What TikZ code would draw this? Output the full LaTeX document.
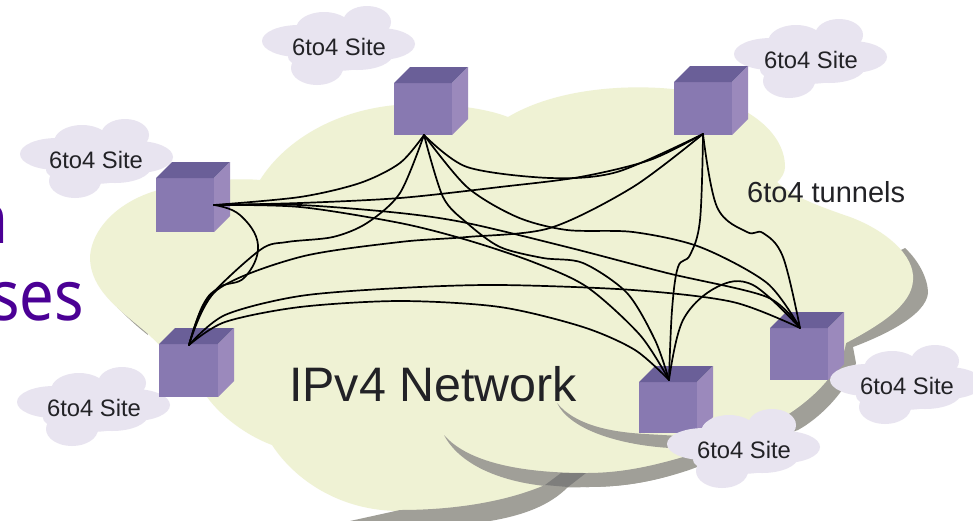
\documentclass[tikz,border=0pt]{standalone}
\usepackage{fontspec}
\setmainfont{Liberation Sans}
\newfontfamily\headfont{Noto Sans}
\definecolor{cloudlight}{HTML}{EFF2D4}
\definecolor{shadowcol}{HTML}{A09F98}
\definecolor{shadowdark}{HTML}{7E7E7C}
\definecolor{sitefill}{HTML}{E8E4F0}
\definecolor{cubefront}{HTML}{8879B1}
\definecolor{cubetop}{HTML}{6A5F98}
\definecolor{cubeside}{HTML}{9B89BC}
\definecolor{headcol}{HTML}{4B0095}
\definecolor{inkcol}{HTML}{222226}
\tikzset{
  tunnel/.style={black,line width=1.7pt,line cap=round},
  sitetext/.style={text=inkcol,inner sep=0pt,font=\fontsize{23.8}{24}\selectfont},
  headtext/.style={anchor=base east,inner sep=0pt,text=headcol,xscale=.88,font=\headfont\fontsize{70}{70}\selectfont},
}
\newcommand\siteshape[2]{\begin{scope}[shift={(#1,#2)}]
 \fill[sitefill] (-40,-6) ellipse [x radius=37,y radius=16];
 \fill[sitefill] (-15,-18) ellipse [x radius=28,y radius=17];
 \fill[sitefill] (28,-25) ellipse [x radius=24,y radius=16];
 \fill[sitefill] (40,-3) ellipse [x radius=36,y radius=16];
 \fill[sitefill] (-5,10) ellipse [x radius=46,y radius=14];
 \fill[sitefill] (-22,21) ellipse [x radius=26,y radius=17];
 \fill[sitefill] (18,7) ellipse [x radius=36,y radius=16];
 \fill[sitefill] (-30,-20) rectangle (30,10);
 \end{scope}}
\newcommand\cubebox[5]{%
 \fill[cubefront] (#1,#2) rectangle ++(#3,#4);
 \fill[cubetop] (#1,#2) -- ++(#5,-#5) -- ++(#3,0) -- ++(-#5,#5) -- cycle;
 \fill[cubeside] (#1+#3,#2) -- ++(#5,-#5) -- ++(0,#4) -- ++(-#5,#5) -- cycle;}
\begin{document}
\begin{tikzpicture}[x=1pt,y=-1pt]
\useasboundingbox (0,0) rectangle (973,520);
\fill[white] (0,0) rectangle (973,520);
% purple slide text, cut by the picture's edge
\node[headtext] (headone) at (9,243) {n};
\node[headtext] (headtwo) at (84,320) {ses};
% shadows under the big cloud
\fill[shadowcol] (905,248) .. controls (920,262) and (928,280) .. (928,293)
  .. controls (926,315) and (885,335) .. (853,347) -- (856,363)
  .. controls (850,385) and (825,415) .. (798,430) -- (689,470)
  .. controls (650,483) and (620,487) .. (586,487) -- (520,460) -- (800,300) -- cycle;
\fill[shadowcol] (117,307) .. controls (130,312) and (140,320) .. (146,325) -- (148,335)
  .. controls (135,325) and (125,315) .. (117,307) -- cycle;
% big cloud
\fill[cloudlight] (90,257) .. controls (92,225) and (125,195) .. (172,187)
  .. controls (200,180) and (240,178) .. (260,180)
  .. controls (285,140) and (340,105) .. (415,104)
  .. controls (450,104) and (485,108) .. (508,117)
  .. controls (550,92) and (610,85) .. (660,88)
  .. controls (730,92) and (785,125) .. (785,167)
  .. controls (785,172) and (782,178) .. (777,182)
  .. controls (790,195) and (815,205) .. (850,217)
  .. controls (885,230) and (915,255) .. (913,280)
  .. controls (912,305) and (880,325) .. (846,343)
  .. controls (840,380) and (790,425) .. (720,445)
  .. controls (680,460) and (630,475) .. (586,473)
  .. controls (555,495) and (480,511) .. (400,511)
  .. controls (340,511) and (295,480) .. (272,445)
  .. controls (245,435) and (220,415) .. (207,397)
  .. controls (190,375) and (165,350) .. (147,333)
  .. controls (120,310) and (90,290) .. (90,257) -- cycle;
% crescents on the cloud
\fill[shadowcol] (545,485) .. controls (510,500) and (460,510) .. (400,510)
  -- (350,521) -- (490,521) .. controls (525,515) and (550,505) .. (568,487) -- cycle;
\fill[shadowcol] (444,435) .. controls (470,465) and (530,473) .. (586,473)
  .. controls (620,473) and (650,467) .. (690,455) -- (690,469)
  .. controls (650,483) and (620,487) .. (586,487)
  .. controls (530,490) and (465,475) .. (444,435) -- cycle;
\fill[shadowdark] (561,473) -- (586,473) -- (568,487) -- (545,485) -- cycle;
\fill[shadowcol] (557,403) .. controls (575,425) and (610,432) .. (645,434) -- (680,436) -- (680,450) -- (670,448)
  .. controls (620,445) and (570,430) .. (557,403) -- cycle;
% sites behind the cubes
\siteshape{339}{47}
\siteshape{811}{60}
\siteshape{97}{160}
\siteshape{94}{408}
% cubes
\cubebox{156}{178}{58}{54}{16}
\cubebox{159}{344}{59}{53}{16}
\cubebox{394}{83}{58}{52}{16}
\cubebox{674}{82}{58}{53}{16}
\cubebox{639}{382}{58}{51}{16}
\cubebox{770}{328}{58}{52}{16}
% sites in front of the cubes
\siteshape{907}{386}
\siteshape{744}{450}
% tunnel ends
\coordinate (A) at (214,205);
\coordinate (B) at (189,345);
\coordinate (C) at (424,135);
\coordinate (D) at (703,134);
\coordinate (E) at (669,380);
\coordinate (F) at (800,328);
% tunnels
\draw[tunnel] plot[smooth,tension=.7] coordinates {(A) (240,215) (258,245) (245,277) (220,287) (203,305) (B)};
\draw[tunnel] plot[smooth] coordinates {(A) (300,197) (360,183) (400,163) (C)};
\draw[tunnel] plot[smooth] coordinates {(A) (300,203) (400,198) (500,187) (580,177) (650,160) (D)};
\draw[tunnel] plot[smooth] coordinates {(A) (300,207) (400,223) (467,240) (533,262) (587,287) (640,335) (E)};
\draw[tunnel] plot[smooth] coordinates {(A) (300,205) (400,213) (467,223) (567,247) (667,273) (767,297) (F)};
\draw[tunnel] plot[smooth] coordinates {(B) (207,300) (260,250) (287,242) (333,237) (367,223) (400,193) (C)};
\draw[tunnel] plot[smooth] coordinates {(B) (217,290) (300,257) (400,242) (467,237) (550,228) (633,187) (D)};
\draw[tunnel] plot[smooth] coordinates {(B) (225,322) (300,307) (400,301) (500,307) (583,327) (635,350) (E)};
\draw[tunnel] plot[smooth] coordinates {(B) (225,315) (300,296) (400,288) (500,285) (633,290) (733,302) (F)};
\draw[tunnel] plot[smooth] coordinates {(C) (467,167) (550,178) (617,172) (D)};
\draw[tunnel] plot[smooth] coordinates {(C) (443,197) (467,223) (500,247) (543,258) (583,263) (627,293) (655,340) (E)};
\draw[tunnel] plot[smooth] coordinates {(C) (467,187) (517,217) (567,230) (633,232) (700,247) (767,283) (F)};
\draw[tunnel] plot[smooth,tension=.6] coordinates {(D) (700,220) (690,255) (678,267) (672,310) (E)};
\draw[tunnel] plot[smooth,tension=.6] coordinates {(D) (717,207) (747,232) (763,233) (783,257) (F)};
\draw[tunnel] plot[smooth,tension=.6] coordinates {(E) (683,320) (717,287) (753,285) (F)};
% labels
\node[sitetext] (s1) at (339,47) {6to4 Site};
\node[sitetext] (s2) at (811,60) {6to4 Site};
\node[sitetext] (s3) at (96,160) {6to4 Site};
\node[sitetext] (s4) at (94,408) {6to4 Site};
\node[sitetext] (s5) at (907,386) {6to4 Site};
\node[sitetext] (s6) at (744,450) {6to4 Site};
\node[anchor=base west,inner sep=0pt,text=inkcol,font=\fontsize{29}{29}\selectfont] (tun) at (747,202) {6to4 tunnels};
\node[anchor=base west,inner sep=0pt,text=inkcol,font=\fontsize{48.4}{48}\selectfont] (net) at (289,401) {IPv4 Network};
\end{tikzpicture}
\end{document}
